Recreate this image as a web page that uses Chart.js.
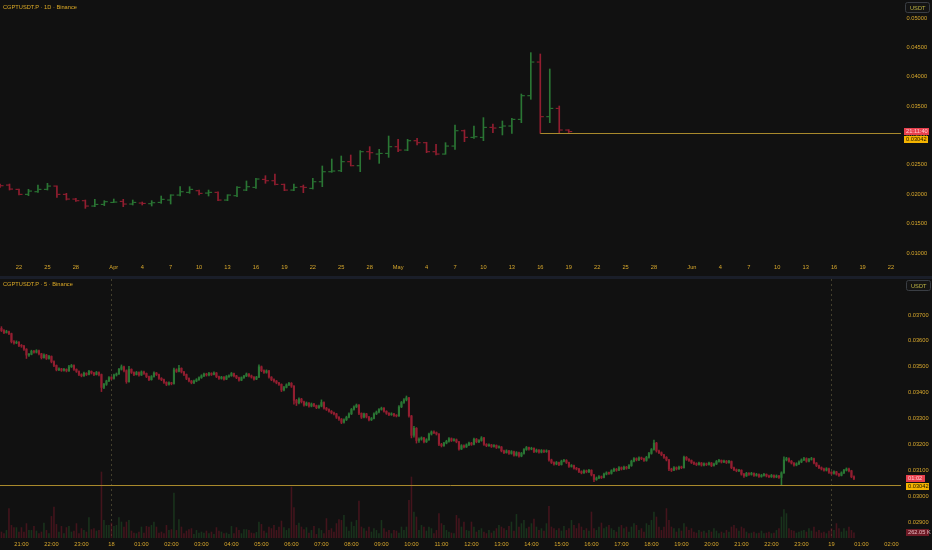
<!DOCTYPE html>
<html><head><meta charset="utf-8">
<script src="https://cdn.jsdelivr.net/npm/chart.js@4.4.1/dist/chart.umd.min.js"></script>
<style>
html,body{margin:0;padding:0;background:#111111;width:932px;height:550px;overflow:hidden}
#top{position:absolute;left:0;top:0;width:932px;height:276px}
#sep{position:absolute;left:0;top:276px;width:932px;height:3px;background:#1a1e29}
#bot{position:absolute;left:0;top:279px;width:932px;height:271px}
</style></head><body>
<div id="top"><canvas id="c1"></canvas></div>
<div id="sep"></div>
<div id="bot"><canvas id="c2"></canvas></div>
<script>
// All prices below are in units of 0.00001 USDT
const U = 1e-5;

// ---------- 1D panel: index 0 = Mar 20 ... index 60 = May 19 ----------
const dOpen  = [2157,2157,2084,1999,2044,2084,2140,1999,1919,1891,1800,1828,1862,1879,1834,1851,1840,1862,1902,1987,2033,2061,2021,2033,1902,1976,2072,2118,2254,2231,2169,2072,2129,2101,2214,2384,2401,2555,2487,2725,2685,2696,2810,2753,2912,2878,2725,2685,2821,3082,2969,2969,3139,3139,3162,3275,3678,4251,3321,3462,3094];
const dHigh  = [2174,2174,2090,2084,2157,2186,2145,2016,1931,1902,1914,1891,1919,1914,1902,1868,1891,1970,1993,2129,2129,2072,2072,2040,1993,2129,2226,2271,2316,2345,2174,2174,2157,2271,2481,2600,2651,2668,2742,2810,2765,2991,2935,2935,2952,2885,2850,2878,3179,3094,3162,3304,3196,3247,3292,3706,4410,4387,4132,3502,3100];
const dLow   = [2118,2072,1987,1976,2033,2072,1948,1902,1879,1760,1789,1806,1857,1789,1817,1817,1800,1845,1834,1970,2016,1987,1970,1891,1891,1959,2061,2101,2186,2157,2061,2061,2027,2089,2129,2373,2384,2481,2384,2594,2526,2628,2725,2742,2838,2708,2668,2680,2765,2895,2952,2912,3048,3009,3037,3218,3616,3037,3218,3037,3050];
const dClose = [2146,2089,1999,2055,2084,2140,1999,1919,1891,1800,1828,1874,1868,1834,1862,1845,1857,1914,1987,2044,2084,2016,2033,1902,1987,2118,2129,2260,2231,2169,2072,2118,2118,2214,2384,2396,2555,2487,2725,2708,2696,2810,2753,2912,2878,2725,2685,2821,3082,2969,2980,3139,3128,3162,3275,3678,4251,3321,3462,3094,3068];
const dayTickIdx = [2,5,8,12,15,18,21,24,27,30,33,36,39,42,45,48,51,54,57,60,63,66,69,73,76,79,82,85,88,91,94];
const dayTickLbl = ['22','25','28','Apr','4','7','10','13','16','19','22','25','28','May','4','7','10','13','16','19','22','25','28','Jun','4','7','10','13','16','19','22'];
const dayPriceTicks = [0.010,0.015,0.020,0.025,0.030,0.035,0.040,0.045,0.050];
const rayPrice = 3042;        // horizontal ray level
const rayStartIdx = 57;       // May 16

// ---------- 5 min panel: index 0 = 17th 20:20, 12 bars per hour ----------
const m5Open = [3648,3640,3632,3636,3628,3597,3592,3595,3582,3580,3568,3545,3548,3560,3556,3562,3550,3535,3545,3532,3540,3520,3505,3488,3492,3486,3490,3484,3500,3505,3490,3482,3470,3465,3475,3470,3482,3476,3470,3478,3470,3420,3432,3445,3458,3455,3468,3472,3490,3500,3485,3442,3490,3478,3470,3478,3468,3480,3474,3462,3450,3462,3476,3470,3455,3450,3440,3432,3438,3435,3488,3482,3494,3480,3470,3455,3445,3438,3445,3450,3458,3465,3472,3468,3474,3470,3476,3462,3455,3460,3452,3462,3465,3474,3465,3458,3448,3458,3464,3472,3465,3460,3452,3460,3500,3485,3478,3484,3460,3450,3445,3438,3432,3410,3420,3430,3436,3425,3370,3360,3375,3365,3352,3360,3348,3356,3350,3342,3348,3362,3340,3335,3328,3322,3318,3305,3298,3285,3295,3305,3318,3335,3345,3352,3320,3305,3318,3306,3295,3300,3318,3325,3335,3340,3328,3320,3315,3318,3312,3310,3345,3362,3372,3380,3310,3235,3262,3215,3220,3225,3210,3218,3240,3248,3245,3240,3200,3195,3205,3212,3222,3215,3218,3210,3182,3195,3190,3198,3205,3200,3220,3210,3215,3225,3200,3195,3198,3192,3196,3188,3190,3175,3168,3175,3165,3172,3158,3168,3155,3165,3180,3188,3182,3185,3172,3178,3170,3176,3172,3175,3140,3130,3124,3130,3122,3135,3138,3130,3115,3118,3108,3105,3095,3090,3098,3094,3100,3082,3064,3070,3075,3072,3085,3090,3088,3098,3104,3100,3110,3105,3112,3108,3118,3135,3145,3140,3148,3145,3138,3150,3165,3180,3205,3175,3168,3160,3150,3140,3105,3100,3110,3105,3112,3110,3150,3142,3138,3130,3126,3122,3128,3120,3125,3122,3128,3118,3124,3134,3138,3132,3135,3130,3134,3110,3102,3098,3100,3085,3078,3088,3084,3088,3080,3084,3076,3080,3084,3078,3075,3080,3074,3078,3072,3090,3140,3145,3135,3128,3120,3125,3132,3140,3145,3135,3142,3145,3128,3118,3110,3105,3100,3106,3092,3088,3094,3085,3080,3090,3100,3105,3098,3075];
const m5High = [3655,3644,3641,3638,3630,3601,3600,3597,3586,3583,3570,3552,3564,3563,3566,3564,3552,3550,3548,3544,3542,3523,3507,3496,3494,3494,3492,3505,3509,3507,3492,3484,3473,3479,3477,3486,3484,3478,3482,3480,3472,3436,3448,3462,3462,3472,3476,3494,3507,3503,3488,3502,3492,3480,3482,3480,3484,3483,3476,3464,3466,3480,3478,3472,3458,3452,3442,3442,3440,3495,3492,3505,3496,3482,3472,3457,3447,3448,3454,3461,3469,3476,3475,3478,3477,3480,3478,3464,3463,3462,3466,3469,3478,3476,3467,3460,3461,3467,3476,3474,3468,3462,3463,3507,3503,3488,3488,3486,3462,3453,3447,3440,3434,3424,3434,3440,3439,3427,3374,3380,3378,3367,3364,3362,3360,3359,3352,3352,3372,3364,3343,3337,3331,3325,3320,3307,3300,3299,3309,3322,3339,3349,3356,3354,3322,3321,3320,3308,3304,3322,3329,3338,3344,3342,3330,3323,3322,3320,3315,3350,3366,3377,3387,3382,3312,3270,3265,3225,3229,3227,3222,3244,3252,3252,3248,3242,3204,3208,3216,3226,3225,3222,3221,3212,3199,3198,3202,3209,3208,3224,3223,3219,3230,3227,3203,3202,3200,3199,3198,3194,3192,3178,3179,3177,3176,3174,3172,3170,3169,3184,3192,3190,3189,3187,3182,3180,3180,3179,3179,3177,3143,3133,3134,3132,3139,3142,3141,3132,3122,3120,3111,3107,3098,3102,3101,3104,3102,3084,3074,3079,3078,3089,3094,3093,3102,3108,3107,3114,3113,3116,3115,3122,3139,3149,3148,3152,3151,3147,3154,3169,3184,3217,3208,3178,3171,3162,3153,3142,3108,3114,3113,3116,3116,3155,3153,3145,3140,3133,3129,3132,3130,3129,3128,3132,3130,3128,3138,3142,3140,3139,3138,3138,3136,3112,3105,3104,3102,3088,3092,3091,3092,3090,3088,3086,3084,3088,3086,3081,3084,3082,3082,3080,3094,3152,3150,3148,3138,3130,3129,3136,3144,3150,3148,3146,3150,3147,3130,3120,3113,3108,3110,3108,3095,3098,3096,3088,3094,3104,3109,3108,3100,3078];
const m5Low = [3636,3628,3630,3624,3592,3587,3589,3578,3575,3563,3532,3540,3546,3552,3553,3546,3530,3533,3528,3529,3515,3500,3484,3485,3482,3483,3480,3482,3497,3486,3478,3466,3461,3463,3466,3468,3472,3466,3468,3465,3404,3415,3428,3442,3450,3452,3464,3470,3487,3480,3436,3440,3474,3466,3468,3464,3466,3470,3458,3446,3448,3460,3466,3451,3446,3436,3427,3429,3430,3433,3478,3480,3476,3466,3450,3441,3434,3435,3442,3447,3455,3462,3464,3465,3466,3468,3458,3451,3452,3448,3450,3459,3463,3461,3454,3444,3446,3455,3462,3461,3456,3448,3450,3458,3481,3474,3475,3456,3446,3440,3434,3428,3404,3407,3418,3427,3420,3355,3350,3356,3360,3348,3349,3344,3345,3346,3338,3339,3345,3336,3331,3324,3318,3314,3300,3293,3280,3282,3292,3302,3315,3332,3342,3315,3300,3302,3302,3291,3292,3298,3315,3322,3332,3324,3316,3311,3312,3308,3306,3308,3342,3358,3368,3305,3225,3228,3205,3208,3216,3206,3207,3215,3236,3241,3236,3195,3190,3192,3202,3209,3211,3212,3206,3178,3180,3186,3188,3195,3196,3198,3206,3207,3212,3196,3191,3192,3188,3189,3184,3185,3171,3164,3166,3161,3162,3154,3155,3151,3152,3162,3177,3178,3179,3168,3169,3166,3167,3168,3169,3135,3126,3120,3121,3118,3120,3132,3126,3111,3112,3104,3101,3091,3086,3088,3090,3091,3078,3056,3061,3067,3068,3070,3082,3084,3085,3095,3096,3098,3101,3102,3104,3106,3115,3132,3136,3137,3141,3134,3135,3147,3162,3178,3170,3164,3156,3146,3136,3098,3095,3098,3101,3103,3106,3108,3138,3134,3126,3122,3118,3120,3116,3117,3118,3120,3114,3116,3122,3131,3128,3129,3126,3127,3106,3098,3094,3095,3081,3072,3076,3080,3081,3076,3077,3072,3073,3077,3074,3071,3072,3070,3071,3068,3043,3088,3136,3131,3124,3116,3117,3122,3129,3137,3131,3132,3139,3124,3114,3106,3101,3096,3097,3088,3084,3085,3081,3076,3078,3087,3097,3094,3071,3064];
const m5Close = [3640,3632,3636,3628,3597,3592,3595,3582,3580,3568,3545,3548,3560,3556,3562,3550,3535,3545,3532,3540,3520,3505,3488,3492,3486,3490,3484,3500,3505,3490,3482,3470,3465,3475,3470,3482,3476,3470,3478,3470,3420,3432,3445,3458,3455,3468,3472,3490,3500,3485,3442,3490,3478,3470,3478,3468,3480,3474,3462,3450,3462,3476,3470,3455,3450,3440,3432,3438,3435,3488,3482,3494,3480,3470,3455,3445,3438,3445,3450,3458,3465,3472,3468,3474,3470,3476,3462,3455,3460,3452,3462,3465,3474,3465,3458,3448,3458,3464,3472,3465,3460,3452,3460,3500,3485,3478,3484,3460,3450,3445,3438,3432,3410,3420,3430,3436,3425,3370,3360,3375,3365,3352,3360,3348,3356,3350,3342,3348,3362,3340,3335,3328,3322,3318,3305,3298,3285,3295,3305,3318,3335,3345,3352,3320,3305,3318,3306,3295,3300,3318,3325,3335,3340,3328,3320,3315,3318,3312,3310,3345,3362,3372,3380,3310,3235,3262,3215,3220,3225,3210,3218,3240,3248,3245,3240,3200,3195,3205,3212,3222,3215,3218,3210,3182,3195,3190,3198,3205,3200,3220,3210,3215,3225,3200,3195,3198,3192,3196,3188,3190,3175,3168,3175,3165,3172,3158,3168,3155,3165,3180,3188,3182,3185,3172,3178,3170,3176,3172,3175,3140,3130,3124,3130,3122,3135,3138,3130,3115,3118,3108,3105,3095,3090,3098,3094,3100,3082,3064,3070,3075,3072,3085,3090,3088,3098,3104,3100,3110,3105,3112,3108,3118,3135,3145,3140,3148,3145,3138,3150,3165,3180,3205,3175,3168,3160,3150,3140,3105,3100,3110,3105,3112,3110,3150,3142,3138,3130,3126,3122,3128,3120,3125,3122,3128,3118,3124,3134,3138,3132,3135,3130,3134,3110,3102,3098,3100,3085,3078,3088,3084,3088,3080,3084,3076,3080,3084,3078,3075,3080,3074,3078,3072,3090,3140,3145,3135,3128,3120,3125,3132,3140,3145,3135,3142,3145,3128,3118,3110,3105,3100,3106,3092,3088,3094,3085,3080,3090,3100,3105,3098,3075,3068];
// volume in thousands
const m5Vol = [300,220,380,1470,630,520,520,300,520,300,720,380,380,580,350,220,300,750,380,220,1080,1550,680,300,580,220,520,580,300,350,720,220,470,380,300,1020,420,470,350,380,3300,880,630,630,750,580,630,1020,800,550,800,880,350,250,220,300,550,250,580,550,630,800,550,250,300,220,630,380,420,2250,380,920,550,220,350,420,470,180,380,250,300,250,350,220,300,180,520,350,300,220,250,180,580,220,520,380,220,420,420,380,250,220,280,800,680,350,250,550,470,630,380,550,850,520,380,470,2550,1520,630,750,550,420,520,250,380,580,180,470,380,220,970,380,470,300,720,920,880,1130,550,350,800,580,880,1850,550,470,350,550,300,470,380,220,880,470,300,380,220,380,350,250,550,380,550,1880,3050,1300,1050,380,630,550,350,550,470,220,380,1220,720,630,380,300,250,220,1130,970,550,800,380,350,800,550,300,380,470,300,220,380,250,350,470,630,550,470,380,580,800,350,1180,550,720,880,470,550,720,950,550,380,470,350,720,1580,550,470,380,470,350,580,380,470,880,630,470,720,550,380,470,350,1300,470,380,550,750,470,550,630,470,380,300,550,630,470,550,300,550,720,630,380,470,300,720,630,880,1300,1050,550,380,550,1470,880,550,470,300,470,350,720,550,380,470,300,250,380,300,350,250,380,300,470,350,220,300,250,380,300,550,630,470,350,550,470,300,220,250,300,220,250,350,220,250,300,220,250,380,470,1050,1420,1220,470,380,350,250,300,350,380,300,470,350,550,300,380,250,300,220,350,470,380,720,470,300,470,350,550,380,262.05];
const hourTickIdx = [8,20,32,44,56,68,80,92,104,116,128,140,152,164,176,188,200,212,224,236,248,260,272,284,296,308,320,332,344,356];
const hourTickLbl = ['21:00','22:00','23:00','18','01:00','02:00','03:00','04:00','05:00','06:00','07:00','08:00','09:00','10:00','11:00','12:00','13:00','14:00','15:00','16:00','17:00','18:00','19:00','20:00','21:00','22:00','23:00','19','01:00','02:00'];
const dayBreakIdx = [44,332];
const m5PriceTicks = [0.029,0.030,0.031,0.032,0.033,0.034,0.035,0.036,0.037];

const title1 = 'CGPTUSDT.P · 1D · Binance';
const title2 = 'CGPTUSDT.P · 5 · Binance';
const countdown1 = '21:11:40';
const countdown2 = '01:02';

// ---------- styles ----------
const FONT = "'Liberation Sans', Arial, sans-serif";
const TXT = '#d8a82c';
const UP = '#2a7634', DN = '#921e30';
const UPV = 'rgba(38,100,46,0.42)', DNV = 'rgba(125,26,42,0.48)';
const RAY = '#a8892c';
const FS = 5.7;
Chart.defaults.font.family = FONT;
Chart.defaults.font.size = FS;
Chart.defaults.color = TXT;
Chart.defaults.animation = false;

function fitW(w){ return ax => { ax.width = w; ax.paddingTop = 0; ax.paddingBottom = 0; ax.paddingLeft = 0; ax.paddingRight = 0; }; }
function fitH(h){ return ax => { ax.height = h; ax.paddingTop = 0; ax.paddingBottom = 0; ax.paddingLeft = 0; ax.paddingRight = 0; }; }

function label(ctx, x, yc, w, h, bg, fg, text){
  ctx.fillStyle = bg;
  ctx.fillRect(x, Math.round(yc - h/2), w, h);
  ctx.fillStyle = fg;
  ctx.font = `${FS}px ${FONT}`;
  ctx.textAlign = 'left'; ctx.textBaseline = 'middle';
  ctx.fillText(text, x + 2, Math.round(yc - h/2) + h/2 + 0.3);
}
function unitBox(ctx, x, y){
  ctx.beginPath();
  ctx.roundRect(x + 0.5, y + 0.5, 24, 10, 2);
  ctx.fillStyle = '#141414'; ctx.fill();
  ctx.strokeStyle = '#3a3e44'; ctx.lineWidth = 1; ctx.stroke();
  ctx.fillStyle = '#bdb443';
  ctx.font = `${FS}px ${FONT}`;
  ctx.textAlign = 'left'; ctx.textBaseline = 'middle';
  ctx.fillText('USDT', x + 5, y + 6);
}

const ohlcTicks = {
  id: 'ohlcTicks',
  afterDatasetsDraw(chart){
    const ctx = chart.ctx, ys = chart.scales.y;
    const meta = chart.getDatasetMeta(0);
    ctx.save();
    meta.data.forEach((el, i) => {
      ctx.fillStyle = dClose[i] >= dOpen[i] ? UP : DN;
      const yo = ys.getPixelForValue(dOpen[i] * U), yc = ys.getPixelForValue(dClose[i] * U);
      ctx.fillRect(el.x - 3.5, yo - 0.5, 3, 1.1);
      ctx.fillRect(el.x + 0.5, yc - 0.5, 3, 1.1);
    });
    ctx.restore();
  }
};

const overlayTop = {
  id: 'overlayTop',
  afterDraw(chart){
    const {ctx, chartArea: a, scales: {x, y}} = chart;
    ctx.save();
    const py = Math.round(y.getPixelForValue(rayPrice * U)) + 0.5;
    ctx.strokeStyle = RAY; ctx.lineWidth = 1;
    ctx.beginPath(); ctx.moveTo(x.getPixelForValue(rayStartIdx), py); ctx.lineTo(a.right + 3, py); ctx.stroke();
    ctx.fillStyle = '#dcaa26';
    ctx.font = `${FS}px ${FONT}`; ctx.textBaseline = 'middle'; ctx.textAlign = 'left';
    ctx.fillText(title1, 3, 7);
    const lc = y.getPixelForValue(dClose[dClose.length - 1] * U);
    label(ctx, 904, lc, 25, 7, '#e8414e', '#ffc9cf', countdown1);
    label(ctx, 904, lc + 8, 24, 7, '#f5b400', '#1a1400', (rayPrice * U).toFixed(5));
    unitBox(ctx, 905, 2);
    ctx.restore();
  }
};

const overlayBot = {
  id: 'overlayBot',
  beforeDatasetsDraw(chart){
    const {ctx, chartArea: a, scales: {x}} = chart;
    ctx.save();
    ctx.strokeStyle = 'rgba(150,140,90,0.38)'; ctx.lineWidth = 1; ctx.setLineDash([2, 3]);
    dayBreakIdx.forEach(v => {
      const px = Math.round(x.getPixelForValue(v)) + 0.5;
      ctx.beginPath(); ctx.moveTo(px, a.top); ctx.lineTo(px, a.bottom); ctx.stroke();
    });
    ctx.restore();
  },
  afterDraw(chart){
    const {ctx, chartArea: a, scales: {y, yv}} = chart;
    ctx.save();
    const py = Math.round(y.getPixelForValue(rayPrice * U)) + 0.5;
    ctx.strokeStyle = RAY; ctx.lineWidth = 1;
    ctx.beginPath(); ctx.moveTo(a.left, py); ctx.lineTo(a.right + 3, py); ctx.stroke();
    ctx.fillStyle = '#dcaa26';
    ctx.font = `${FS}px ${FONT}`; ctx.textBaseline = 'middle'; ctx.textAlign = 'left';
    ctx.fillText(title2, 3, 5.5);
    const lc = y.getPixelForValue(m5Close[m5Close.length - 1] * U);
    label(ctx, 906, lc, 19, 7, '#e8414e', '#ffc9cf', countdown2);
    label(ctx, 906, lc + 8, 23, 7, '#f5b400', '#1a1400', (rayPrice * U).toFixed(5));
    const lv = m5Vol[m5Vol.length - 1];
    label(ctx, 906, yv.getPixelForValue(lv), 23, 7, '#6e1a26', '#e8b9bf', lv.toFixed(2) + ' K');
    unitBox(ctx, 906, 1);
    ctx.restore();
  }
};

// ---------- 1D chart ----------
new Chart(document.getElementById('c1'), {
  type: 'bar',
  data: { datasets: [{
    data: dHigh.map((h, i) => ({ x: i, y: [dLow[i] * U, h * U] })),
    backgroundColor: dClose.map((c, i) => c >= dOpen[i] ? UP : DN),
    barThickness: 1, grouped: false, borderWidth: 0, minBarLength: 1
  }]},
  options: {
    responsive: true, maintainAspectRatio: false, animation: false, events: [],
    layout: { padding: 0 },
    plugins: { legend: { display: false }, tooltip: { enabled: false } },
    scales: {
      x: { type: 'linear', offset: false, min: -0.005, max: 94.74,
           grid: { display: false, drawTicks: false }, border: { display: false },
           afterBuildTicks: ax => { ax.ticks = dayTickIdx.map(v => ({ value: v })); },
           ticks: { autoSkip: false, maxRotation: 0, padding: 5.5, color: TXT, font: { size: FS },
                    callback: (v, i) => dayTickLbl[i] },
           afterFit: fitH(17) },
      y: { type: 'linear', position: 'right', min: 0.00898, max: 0.05306,
           grid: { display: false, drawTicks: false }, border: { display: false },
           afterBuildTicks: ax => { ax.ticks = dayPriceTicks.map(v => ({ value: v })); },
           ticks: { padding: 8.5, color: TXT, font: { size: FS }, callback: v => v.toFixed(5) },
           afterFit: fitW(34) }
    }
  },
  plugins: [ohlcTicks, overlayTop]
});

// ---------- 5 min chart ----------
const idx5 = m5Close.map((_, i) => i);
new Chart(document.getElementById('c2'), {
  type: 'bar',
  data: { datasets: [
    { data: idx5.map(i => ({ x: i, y: [m5Open[i] * U, m5Close[i] * U] })),
      backgroundColor: idx5.map(i => m5Close[i] >= m5Open[i] ? UP : DN),
      barThickness: 1.5, grouped: false, borderWidth: 0, minBarLength: 0.8, order: 1, yAxisID: 'y' },
    { data: idx5.map(i => ({ x: i, y: [m5Low[i] * U, m5High[i] * U] })),
      backgroundColor: idx5.map(i => m5Close[i] >= m5Open[i] ? UP : DN),
      barThickness: 0.9, grouped: false, borderWidth: 0, minBarLength: 1, order: 2, yAxisID: 'y' },
    { data: idx5.map(i => ({ x: i, y: m5Vol[i] })),
      backgroundColor: idx5.map(i => m5Close[i] >= m5Open[i] ? UPV : DNV),
      barThickness: 0.9, grouped: false, borderWidth: 0, order: 3, yAxisID: 'yv' }
  ]},
  options: {
    responsive: true, maintainAspectRatio: false, animation: false, events: [],
    layout: { padding: 0 },
    plugins: { legend: { display: false }, tooltip: { enabled: false } },
    scales: {
      x: { type: 'linear', offset: false, min: -0.58, max: 358.62,
           grid: { display: false, drawTicks: false }, border: { display: false },
           afterBuildTicks: ax => { ax.ticks = hourTickIdx.map(v => ({ value: v })); },
           ticks: { autoSkip: false, maxRotation: 0, padding: 3, color: TXT, font: { size: FS },
                    callback: (v, i) => hourTickLbl[i] },
           afterFit: fitH(12) },
      y: { type: 'linear', position: 'right', min: 0.028382, max: 0.038391,
           grid: { display: false, drawTicks: false }, border: { display: false },
           afterBuildTicks: ax => { ax.ticks = m5PriceTicks.map(v => ({ value: v })); },
           ticks: { padding: 10, color: TXT, font: { size: FS }, callback: v => v.toFixed(5) },
           afterFit: fitW(34) },
      yv: { type: 'linear', display: false, min: 0, max: 12950 }
    }
  },
  plugins: [overlayBot]
});
</script>
</body></html>
